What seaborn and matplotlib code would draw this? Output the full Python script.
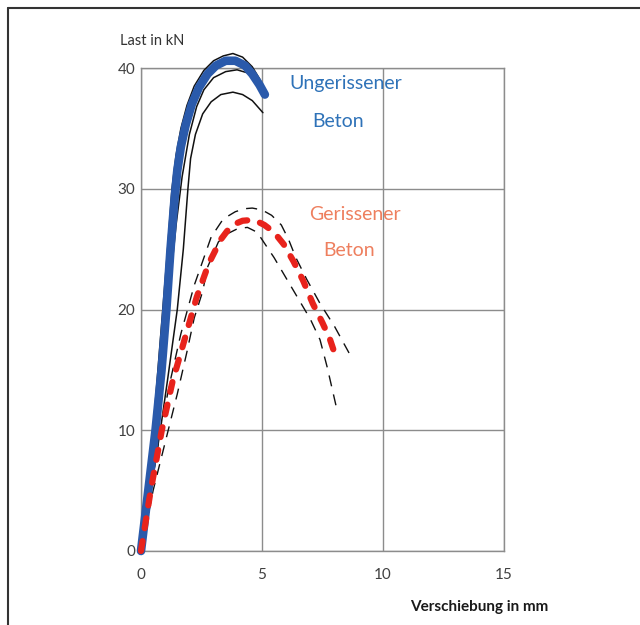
import matplotlib
matplotlib.use("Agg")
import matplotlib.pyplot as plt
import pandas as pd
import seaborn as sns

sns.set_theme(style="white")
plt.rcParams["font.family"] = ["Lato", "DejaVu Sans"]

# --- Daten ---
# Ungerissener Beton: Mittelkurve (blau) + Einzelversuche (schwarz)
blue_x = [0, 0.3, 0.6, 0.85, 1.05, 1.22, 1.38, 1.5, 1.65, 1.85, 2.1, 2.4, 2.75, 3.1, 3.5, 3.9, 4.3, 4.6, 4.9, 5.12]
blue_y = [0, 5, 10, 15, 20, 25, 29, 31.5, 33.5, 35.3, 37, 38.4, 39.5, 40.2, 40.6, 40.6, 40.2, 39.5, 38.6, 37.8]

solid_a_x = [0, 0.5, 0.9, 1.1, 1.28, 1.45, 1.65, 1.9, 2.2, 2.6, 3.0, 3.4, 3.8, 4.2, 4.6, 4.9, 5.1]
solid_a_y = [0, 10, 20, 25, 30, 32.8, 35, 36.9, 38.5, 39.8, 40.6, 41.0, 41.2, 40.9, 40.1, 39.1, 38.2]

solid_b_x = [0, 0.6, 1.1, 1.45, 1.7, 2.0, 2.3, 2.6, 3.0, 3.5, 3.97, 4.4, 4.8, 5.1]
solid_b_y = [0, 10, 20, 27, 31, 34.5, 36.8, 38.2, 39.2, 39.7, 39.85, 39.6, 38.9, 38.0]

solid_c_x = [0, 0.8, 1.1, 1.5, 1.75, 1.94, 2.05, 2.25, 2.55, 2.9, 3.3, 3.8, 4.2, 4.6, 5.04]
solid_c_y = [0, 10, 14.2, 20, 25, 30, 32.5, 34.5, 36.2, 37.2, 37.8, 38.0, 37.8, 37.3, 36.3]

# Gerissener Beton: Mittelkurve (rot) + Einzelversuche (schwarz gestrichelt)
red_x = [0, 0.4, 0.86, 1.3, 1.8, 2.3, 2.8, 3.3, 3.6, 3.9, 4.2, 4.5, 4.8, 5.1, 5.5, 5.9, 6.3, 6.7, 7.1, 7.5, 7.8, 8.1]
red_y = [0, 5, 10, 14, 17.5, 21, 23.8, 25.8, 26.6, 27.1, 27.35, 27.4, 27.3, 27.0, 26.4, 25.4, 24.0, 22.4, 20.5, 18.9, 17.6, 15.8]

dash_a_x = [0, 0.4, 0.8, 1.2, 1.65, 2.2, 2.9, 3.4, 3.9, 4.3, 4.6, 5.0, 5.4, 5.8, 6.1, 6.4, 6.85, 7.4, 8.0, 8.6]
dash_a_y = [0, 5, 10, 14, 18, 22, 26, 27.5, 28.1, 28.35, 28.4, 28.25, 27.8, 27.0, 25.8, 24.3, 22.5, 20.5, 18.6, 16.4]

dash_b_x = [0, 0.5, 1.0, 1.5, 1.9, 2.2, 2.55, 2.75, 3.2, 3.6, 4.0, 4.4, 4.8, 5.1, 5.5, 6.0, 6.5, 7.0, 7.4, 7.7, 8.1]
dash_b_y = [0, 5, 9, 13, 16.5, 19.3, 21.5, 23.5, 25.6, 26.3, 26.7, 26.8, 26.4, 25.5, 24.3, 22.6, 20.9, 19.2, 17.5, 15.2, 11.7]

x_ticks = [0, 5, 10, 15]
y_ticks = [0, 10, 20, 30, 40]

fig = plt.figure(figsize=(6.4, 6.25), dpi=100)
ax = fig.add_axes([0.2203, 0.1184, 0.567, 0.7728])

grid_col = "#8c8c8c"
for xs, ys in [(dash_a_x, dash_a_y), (dash_b_x, dash_b_y)]:
    sns.lineplot(x=xs, y=ys, sort=False, ax=ax, color="#111111", linewidth=1.0,
                 clip_on=False, zorder=3).lines[-1].set_dashes((8, 6))
for xs, ys in [(solid_a_x, solid_a_y), (solid_b_x, solid_b_y), (solid_c_x, solid_c_y)]:
    sns.lineplot(x=xs, y=ys, sort=False, ax=ax, color="#111111", linewidth=1.1,
                 clip_on=False, zorder=3)

sns.lineplot(x=blue_x, y=blue_y, sort=False, ax=ax, color="#2a5aab", linewidth=6.2,
             clip_on=False, zorder=4, solid_capstyle="round", solid_joinstyle="round")
red_line = sns.lineplot(x=red_x, y=red_y, sort=False, ax=ax, color="#e8231c",
                        linewidth=4.5, clip_on=False, zorder=5).lines[-1]
red_line.set_dashes((1.6, 2.1))
red_line.set_dash_capstyle("round")

ax.set_xlim(0, 15)
ax.set_ylim(0, 40)
ax.set_xticks(x_ticks)
ax.set_yticks(y_ticks)
ax.grid(True, color=grid_col, linewidth=1.0)
ax.set_axisbelow(True)
for sp in ax.spines.values():
    sp.set_color(grid_col)
    sp.set_linewidth(1.0)
ax.tick_params(axis="x", length=0, pad=12, labelsize=11, labelcolor="#404040")
ax.tick_params(axis="y", length=0, pad=4, labelsize=11, labelcolor="#404040")
ax.set_xlabel("")
ax.set_ylabel("")

ax.text(8.47, 38.7, "Ungerissener", color="#2e72b8", fontsize=14, ha="center", va="center")
ax.text(8.15, 35.6, "Beton", color="#2e72b8", fontsize=14, ha="center", va="center")
ax.text(8.85, 27.9, "Gerissener", color="#ee7f5e", fontsize=14, ha="center", va="center")
ax.text(8.6, 24.9, "Beton", color="#ee7f5e", fontsize=14, ha="center", va="center")

fig.text(0.1875, 0.934, "Last in kN", fontsize=10.5, color="#333333", ha="left", va="center")
fig.text(0.748, 0.029, "Verschiebung in mm", fontsize=11, fontweight="bold",
         color="#1a1a1a", ha="center", va="center")

# Rahmen links und oben
fig.add_artist(plt.Line2D([8 / 640, 8 / 640], [0, 1 - 8 / 625], transform=fig.transFigure,
                          color="#333333", linewidth=1.5))
fig.add_artist(plt.Line2D([8 / 640, 1], [1 - 8 / 625, 1 - 8 / 625], transform=fig.transFigure,
                          color="#333333", linewidth=1.5))

fig.savefig("out.png", dpi=100)
